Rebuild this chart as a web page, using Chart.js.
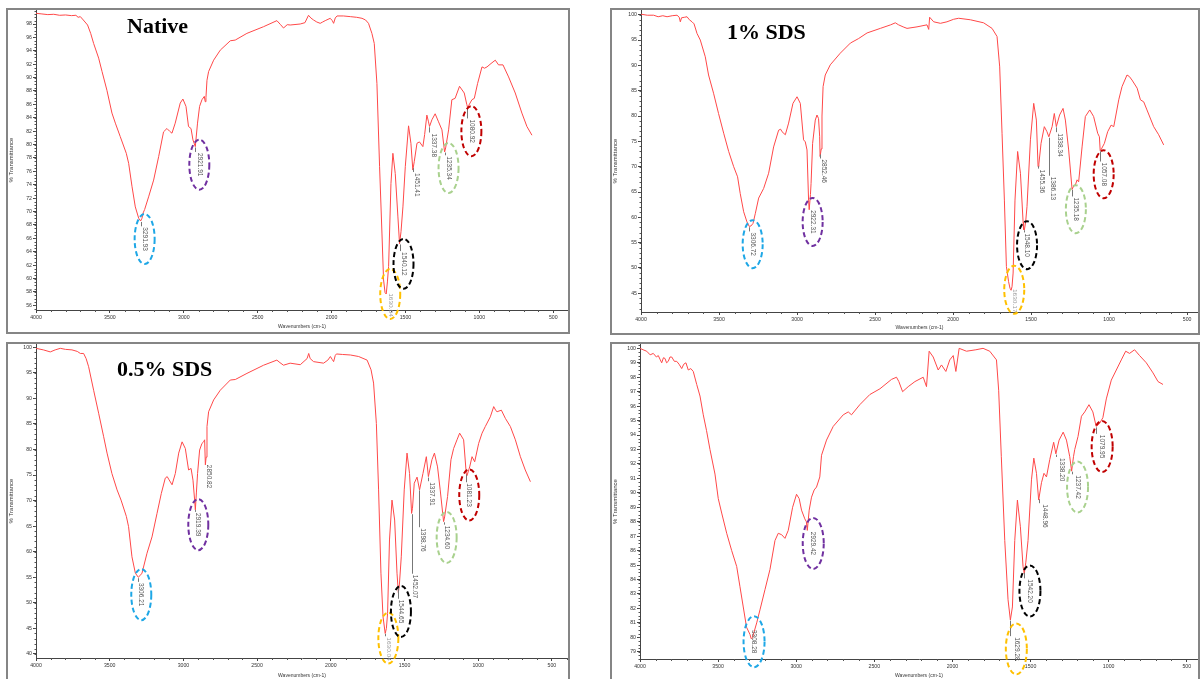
<!DOCTYPE html>
<html lang="en">
<head>
<meta charset="UTF-8">
<title>FTIR spectra</title>
<script src="https://cdn.jsdelivr.net/npm/chart.js"></script>
<style>
  body { margin: 0; width: 1201px; height: 679px; overflow: hidden; position: relative; background: #fff; }
  .panel { position: absolute; border: 2px solid #858585; box-sizing: border-box; background: #fff; }
  .panel canvas { position: absolute; left: 0; top: 0; }
  .tag { position: absolute; font-family: "Liberation Serif", "Times New Roman", serif; font-weight: bold;
         font-size: 22px; line-height: 22px; color: #000; white-space: nowrap; }
</style>
</head>
<body>

<div class="panel" style="left:6px;top:8px;width:564px;height:326px"><canvas id="native" width="560" height="322"></canvas></div>
<div class="panel" style="left:610px;top:8px;width:590px;height:327px"><canvas id="sds1" width="586" height="323"></canvas></div>
<div class="panel" style="left:6px;top:342px;width:564px;height:341px"><canvas id="sds05" width="560" height="337"></canvas></div>
<div class="panel" style="left:610px;top:342px;width:590px;height:341px"><canvas id="fourth" width="586" height="337"></canvas></div>

<div class="tag" style="left:127px;top:15px">Native</div>
<div class="tag" style="left:727px;top:21px">1% SDS</div>
<div class="tag" style="left:117px;top:358px">0.5% SDS</div>

<script>
  const xTicks = [4000, 3500, 3000, 2500, 2000, 1500, 1000, 500];

  // ---- Native ----
  const nativeWn = [4000, 3960, 3920, 3880, 3840, 3800, 3760, 3730, 3715, 3700, 3680, 3651, 3630, 3610, 3576, 3553, 3520, 3486, 3463, 3430,
    3389, 3373, 3350, 3328, 3305, 3292, 3283, 3275, 3265, 3238, 3204, 3170, 3137, 3114, 3096, 3080, 3058, 3024, 3006, 2985,
    2968, 2951, 2938, 2922, 2907, 2893, 2877, 2861, 2855, 2850, 2843, 2832, 2798, 2753, 2685, 2652, 2573, 2460, 2370, 2345,
    2325, 2300, 2280, 2212, 2180, 2156, 2140, 2122, 2100, 2077, 2060, 2043, 2009, 1995, 1986, 1975, 1963, 1920, 1873, 1830,
    1794, 1770, 1750, 1727, 1711, 1693, 1675, 1659, 1648, 1638, 1630, 1622, 1614, 1598, 1585, 1569, 1551, 1540, 1530, 1517,
    1501, 1479, 1463, 1450, 1440, 1422, 1405, 1382, 1370, 1355, 1345, 1337, 1321, 1299, 1276, 1253, 1240, 1235, 1228, 1208,
    1186, 1164, 1134, 1102, 1085, 1080, 1073, 1050, 1034, 1012, 982, 965, 948, 921, 892, 870, 840, 802, 757, 712, 678, 644];
  const nativeT = [99.6, 99.5, 99.4, 99.45, 99.3, 99.35, 99.25, 99.3, 99.0, 99.1, 98.6, 97.85, 96.6, 95.1, 92.9, 90.9, 88.1, 84.7, 83.2, 81.2,
    78.7, 77.2, 73.7, 70.7, 69.0, 68.6, 69.0, 69.8, 70.3, 72.2, 74.7, 78.2, 81.9, 82.4, 82.0, 81.7, 83.2, 86.2, 86.8, 85.7,
    82.7, 82.4, 80.7, 79.7, 83.2, 85.7, 86.7, 87.2, 86.4, 87.0, 89.6, 90.9, 92.6, 94.1, 95.5, 95.6, 96.6, 97.6, 98.5, 97.9,
    97.4, 97.9, 97.85, 98.0, 98.2, 99.3, 98.9, 98.6, 98.3, 98.1, 98.3, 98.5, 98.85, 98.5, 98.1, 98.9, 99.2, 99.2, 99.1, 99.0,
    98.85, 98.6, 98.1, 96.6, 95.1, 89.1, 76.7, 66.8, 59.8, 57.9, 57.7, 59.5, 61.8, 74.2, 78.7, 75.7, 69.2, 65.2, 67.0, 70.7,
    76.7, 82.8, 80.2, 76.2, 77.5, 80.2, 80.4, 79.7, 81.5, 84.4, 83.5, 82.7, 83.7, 84.6, 83.4, 82.2, 79.8, 78.9, 79.5, 82.2,
    86.7, 86.9, 88.7, 87.7, 86.0, 85.6, 85.8, 86.7, 86.9, 89.1, 91.6, 91.4, 91.6, 92.1, 92.6, 91.9, 91.9, 90.1, 87.7, 84.7, 82.7, 81.4];
  const nativePeaks = [3291.93, 2921.91, 1630.04, 1540.12, 1451.41, 1337.38, 1235.34, 1080.92];
  const nativeYTicks = [56, 58, 60, 62, 64, 66, 68, 70, 72, 74, 76, 78, 80, 82, 84, 86, 88, 90, 92, 94, 96, 98];

  // ---- 1% SDS ----
  const sds1Wn = [4000, 3960, 3919, 3890, 3860, 3833, 3800, 3769, 3755, 3748, 3740, 3720, 3705, 3690, 3673, 3660, 3641, 3620, 3588, 3567,
    3535, 3503, 3470, 3438, 3406, 3381, 3364, 3342, 3321, 3306, 3295, 3282, 3267, 3246, 3214, 3182, 3150, 3118, 3105, 3096,
    3075, 3054, 3026, 3000, 2979, 2958, 2947, 2936, 2926, 2922, 2914, 2910, 2900, 2883, 2872, 2862, 2855, 2852, 2845, 2840,
    2833, 2819, 2787, 2723, 2658, 2605, 2551, 2466, 2400, 2370, 2349, 2320, 2295, 2231, 2167, 2156, 2150, 2124, 2081, 2039,
    1996, 1964, 1889, 1804, 1750, 1718, 1701, 1686, 1671, 1658, 1644, 1635, 1628, 1622, 1615, 1603, 1586, 1568, 1551, 1548,
    1543, 1535, 1526, 1504, 1483, 1466, 1455, 1450, 1436, 1415, 1398, 1386, 1365, 1351, 1338, 1317, 1295, 1280, 1259, 1237,
    1225, 1216, 1205, 1195, 1173, 1152, 1124, 1099, 1073, 1062, 1057, 1049, 1030, 1009, 987, 970, 938, 917, 885, 870,
    853, 820, 799, 778, 757, 714, 682, 650];
  const sds1T = [100.1, 99.9, 99.9, 99.6, 99.8, 99.6, 99.8, 99.9, 99.5, 98.6, 99.4, 99.5, 99.6, 99.0, 98.6, 98.2, 96.3, 95.0, 91.7, 88.1,
    84.5, 80.5, 76.6, 73.0, 70.0, 68.0, 64.7, 61.1, 59.1, 58.2, 58.3, 58.8, 60.8, 63.8, 65.7, 68.7, 73.9, 77.2, 77.4, 76.9,
    76.3, 78.6, 82.5, 83.8, 82.5, 75.3, 74.9, 73.3, 63.4, 61.5, 64.5, 66.7, 74.6, 79.2, 80.2, 79.5, 76.0, 72.0, 73.5, 80.0,
    85.8, 88.1, 90.1, 92.4, 94.4, 95.3, 96.4, 97.3, 98.0, 98.4, 98.0, 97.6, 97.3, 97.6, 98.0, 97.1, 99.5, 98.6, 98.3, 98.6,
    99.1, 99.3, 99.0, 98.4, 97.3, 95.7, 89.7, 76.6, 63.4, 50.3, 47.3, 46.0, 45.6, 46.3, 49.0, 63.4, 73.0, 68.7, 59.1, 57.6,
    57.5, 59.0, 62.1, 75.3, 82.5, 79.2, 70.0, 70.5, 74.6, 77.9, 76.9, 75.9, 77.9, 80.5, 77.9, 80.2, 81.5, 79.2, 73.3, 65.5,
    66.3, 66.4, 67.4, 67.0, 73.9, 79.9, 81.2, 79.9, 76.6, 75.9, 73.2, 73.5, 74.6, 76.9, 78.2, 77.9, 83.2, 85.8, 88.1, 87.8,
    87.1, 85.5, 83.2, 82.8, 81.2, 77.9, 76.3, 74.3];
  const sds1Peaks = [3306.72, 2922.31, 2852.46, 1630.17, 1548.10, 1455.36, 1386.13, 1338.34, 1235.18, 1057.08];
  const sds1YTicks = [45, 50, 55, 60, 65, 70, 75, 80, 85, 90, 95, 100];

  // ---- 0.5% SDS ----
  const sds05Wn = [4000, 3950, 3903, 3870, 3835, 3800, 3756, 3720, 3699, 3677, 3660, 3643, 3609, 3575, 3541, 3518, 3485, 3450, 3423, 3387,
    3372, 3349, 3326, 3306, 3295, 3281, 3247, 3213, 3179, 3150, 3123, 3110, 3100, 3077, 3055, 3032, 3009, 2987, 2965, 2948,
    2935, 2925, 2919, 2912, 2904, 2890, 2874, 2863, 2856, 2851, 2846, 2840, 2829, 2795, 2750, 2682, 2648, 2569, 2456, 2366,
    2345, 2321, 2276, 2207, 2161, 2150, 2140, 2117, 2049, 2020, 2003, 1990, 1981, 1970, 1962, 1920, 1867, 1811, 1754, 1727,
    1710, 1691, 1676, 1660, 1646, 1631, 1623, 1615, 1602, 1585, 1567, 1551, 1542, 1535, 1522, 1502, 1483, 1466, 1452, 1446,
    1434, 1415, 1398, 1375, 1352, 1338, 1314, 1297, 1276, 1258, 1235, 1228, 1208, 1185, 1167, 1144, 1126, 1099, 1081, 1076,
    1058, 1042, 1024, 997, 974, 952, 918, 895, 880, 872, 843, 816, 782, 748, 714, 681, 646];
  const sds05T = [99.8, 99.5, 99.1, 99.5, 99.8, 99.6, 99.5, 99.2, 98.8, 98.8, 97.8, 96.2, 91.6, 87.1, 82.5, 79.3, 75.3, 72.1, 70.1, 66.9,
    64.9, 59.0, 55.8, 55.0, 55.3, 55.8, 59.7, 62.9, 67.5, 71.4, 74.4, 74.7, 74.2, 73.1, 75.3, 79.3, 81.5, 80.2, 76.0, 76.3,
    74.0, 70.5, 68.2, 71.5, 75.3, 79.9, 81.2, 81.5, 81.9, 77.0, 78.5, 84.5, 87.4, 89.7, 91.6, 93.6, 93.7, 94.9, 96.5, 97.5,
    97.0, 96.5, 96.9, 96.6, 97.8, 98.8, 97.8, 97.2, 96.9, 97.5, 98.2, 97.6, 97.2, 98.4, 98.7, 98.6, 98.5, 98.2, 97.5, 95.6,
    93.0, 85.1, 72.1, 55.8, 47.3, 44.0, 45.0, 47.9, 62.3, 70.1, 66.2, 55.8, 52.0, 53.5, 59.0, 72.1, 79.3, 75.3, 67.5, 68.5,
    73.4, 74.6, 72.1, 75.3, 78.6, 74.7, 78.0, 79.3, 76.6, 72.1, 65.9, 66.8, 70.8, 78.0, 80.2, 81.9, 83.2, 81.9, 75.2, 74.9,
    76.6, 78.6, 77.6, 81.2, 83.2, 84.5, 86.4, 88.4, 87.6, 87.4, 87.7, 86.1, 84.5, 81.9, 78.6, 76.0, 73.7];
  const sds05Peaks = [3306.21, 2919.39, 2850.82, 1630.04, 1544.65, 1452.07, 1398.76, 1337.91, 1234.60, 1081.23];
  const sds05YTicks = [40, 45, 50, 55, 60, 65, 70, 75, 80, 85, 90, 95, 100];

  // ---- fourth sample (no caption) ----
  const fourthWn = [4000, 3980, 3957, 3935, 3915, 3895, 3883, 3870, 3861, 3850, 3840, 3830, 3819, 3808, 3797, 3780, 3765, 3750, 3733, 3720,
    3706, 3691, 3675, 3659, 3637, 3616, 3595, 3574, 3552, 3520, 3499, 3477, 3445, 3413, 3381, 3360, 3339, 3318, 3296, 3288,
    3279, 3269, 3253, 3232, 3200, 3168, 3136, 3115, 3093, 3072, 3051, 3023, 2998, 2981, 2966, 2945, 2935, 2929, 2917, 2902,
    2885, 2870, 2849, 2838, 2806, 2763, 2699, 2667, 2646, 2593, 2529, 2464, 2390, 2358, 2343, 2319, 2283, 2240, 2187, 2166,
    2149, 2123, 2091, 2070, 2042, 2017, 1995, 1978, 1957, 1910, 1850, 1804, 1761, 1718, 1704, 1687, 1665, 1644, 1629, 1616,
    1601, 1584, 1565, 1548, 1540, 1530, 1516, 1494, 1479, 1462, 1448, 1430, 1414, 1398, 1377, 1352, 1338, 1317, 1291, 1270,
    1249, 1237, 1225, 1217, 1196, 1174, 1153, 1126, 1101, 1080, 1058, 1037, 1015, 983, 951, 919, 891, 866, 834, 802,
    759, 716, 684, 652];
  const fourthT = [100.0, 99.9, 99.8, 99.55, 99.65, 99.4, 99.5, 99.2, 99.0, 99.35, 99.3, 99.0, 99.1, 99.4, 99.4, 99.1, 99.1, 98.9, 98.6, 98.9,
    99.0, 98.5, 98.6, 98.4, 97.5, 96.7, 95.4, 94.3, 93.0, 91.3, 89.6, 88.6, 87.2, 86.0, 84.9, 83.5, 82.1, 80.7, 80.2, 79.9,
    80.0, 80.4, 81.0, 81.9, 83.3, 84.7, 86.7, 87.2, 87.1, 86.85, 87.4, 89.0, 89.9, 89.6, 88.8, 88.2, 88.0, 87.4, 88.8, 89.7,
    90.2, 90.4, 91.1, 92.6, 93.65, 94.6, 95.4, 95.6, 95.4, 96.1, 96.8, 97.2, 97.85, 98.0, 97.7, 97.0, 97.35, 97.7, 98.0, 97.35,
    99.8, 99.4, 98.5, 98.85, 98.4, 99.2, 99.5, 98.4, 100.0, 99.8, 99.9, 100.0, 99.8, 99.2, 97.1, 92.5, 86.7, 82.6, 81.2, 82.1,
    86.7, 89.5, 87.65, 84.9, 84.4, 85.2, 86.7, 90.9, 92.4, 91.35, 89.5, 90.7, 91.35, 91.1, 92.3, 93.5, 92.7, 93.65, 94.2, 93.65,
    92.5, 91.5, 92.5, 93.0, 93.9, 95.3, 95.6, 96.1, 95.6, 94.6, 94.8, 95.2, 96.5, 97.8, 98.5, 99.2, 99.8, 99.65, 99.9, 99.5,
    99.0, 98.3, 97.7, 97.5];
  const fourthPeaks = [3308.28, 2929.42, 1629.28, 1542.20, 1448.96, 1338.20, 1237.42, 1079.95];
  const fourthYTicks = [79, 80, 81, 82, 83, 84, 85, 86, 87, 88, 89, 90, 91, 92, 93, 94, 95, 96, 97, 98, 99, 100];

  // ---- annotation layout (label height in %T, ring colour) ----
  const BLUE = '#1ea7e6', PURPLE = '#7030a0', GOLD = '#ffc000', BLACK = '#000000', GREEN = '#a9d18e', RED = '#c00000';
  const nativeMarks = [{ at: 65.9, ring: BLUE }, { at: 77.0, ring: PURPLE }, { at: 57.7, ring: GOLD, small: true }, { at: 62.2, ring: BLACK },
    { at: 74.0 }, { at: 79.9 }, { at: 76.5, ring: GREEN }, { at: 82.0, ring: RED }];
  const sds1Marks = [{ at: 54.7, ring: BLUE }, { at: 59.1, ring: PURPLE }, { at: 69.1 }, { at: 45.7, ring: GOLD, small: true },
    { at: 54.5, ring: BLACK }, { at: 67.1 }, { at: 65.7 }, { at: 74.3 }, { at: 61.6, ring: GREEN }, { at: 68.5, ring: RED }];
  const sds05Marks = [{ at: 51.6, ring: BLUE }, { at: 65.3, ring: PURPLE }, { at: 74.7 }, { at: 43.1, ring: GOLD, small: true },
    { at: 48.3, ring: BLACK }, { at: 53.2 }, { at: 62.3 }, { at: 71.3 }, { at: 62.8, ring: GREEN }, { at: 71.1, ring: RED }];
  const fourthMarks = [{ at: 79.7, ring: BLUE }, { at: 86.5, ring: PURPLE }, { at: 79.2, ring: GOLD }, { at: 83.2, ring: BLACK },
    { at: 88.4 }, { at: 91.6 }, { at: 90.4, ring: GREEN }, { at: 93.2, ring: RED }];

  function valueAt(wn, t, w) {
    for (let i = 1; i < wn.length; i++) {
      if (wn[i] <= w) {
        const f = (wn[i - 1] - w) / (wn[i - 1] - wn[i]);
        return t[i - 1] + f * (t[i] - t[i - 1]);
      }
    }
    return t[t.length - 1];
  }

  function spectrum(cfg) {
    const decor = {
      id: 'decor',
      afterDatasetsDraw(chart) {
        const { ctx, scales: { x, y } } = chart;
        ctx.save();
        // minor ticks
        ctx.strokeStyle = '#555';
        ctx.lineWidth = 1;
        ctx.beginPath();
        for (let v = 4000; v >= cfg.xMin; v -= 100) {
          if (v % 500 === 0) continue;
          const px = Math.round(x.getPixelForValue(v)) + 0.5;
          ctx.moveTo(px, x.top); ctx.lineTo(px, x.top + 2);
        }
        for (let v = Math.ceil(cfg.yMin / cfg.yMinor) * cfg.yMinor; v <= cfg.yMax; v += cfg.yMinor) {
          const py = Math.round(y.getPixelForValue(v)) + 0.5;
          ctx.moveTo(y.right - 1.5, py); ctx.lineTo(y.right, py);
        }
        ctx.stroke();

        // peak labels and rings
        cfg.peaks.forEach((p, i) => {
          const m = cfg.marks[i];
          const label = p.toFixed(2);
          const px = x.getPixelForValue(p);
          const cx = px + cfg.shift;
          const cy = y.getPixelForValue(m.at);
          const ty = m.small ? cy + 11 : cy;
          ctx.font = (m.small ? 4.5 : 6.5) + 'px "Liberation Sans", Arial, sans-serif';
          const stretch = m.small ? 1.45 : 1;
          const len = ctx.measureText(label).width * stretch;
          const top = ty - len / 2;
          const curve = y.getPixelForValue(valueAt(cfg.wn, cfg.t, p));
          if (top - curve > 2) {
            ctx.strokeStyle = '#777';
            ctx.lineWidth = 1;
            ctx.setLineDash([]);
            ctx.beginPath();
            ctx.moveTo(Math.round(px) + 0.5, curve + 1);
            ctx.lineTo(Math.round(px) + 0.5, top - 1);
            ctx.stroke();
          }
          ctx.save();
          ctx.translate(cx, top);
          ctx.rotate(Math.PI / 2);
          ctx.scale(stretch, 1);
          ctx.fillStyle = m.small ? '#999' : '#555';
          ctx.textBaseline = 'middle';
          ctx.textAlign = 'left';
          ctx.fillText(label, 0, 0);
          ctx.restore();
          if (m.ring) {
            ctx.strokeStyle = m.ring;
            ctx.lineWidth = 2;
            ctx.setLineDash([5, 3]);
            ctx.beginPath();
            ctx.ellipse(cx, cy, cfg.rx, cfg.ry, 0, 0, Math.PI * 2);
            ctx.stroke();
          }
        });
        ctx.restore();
      }
    };

    const tickFont = { family: '"Liberation Sans", Arial, sans-serif', size: 5.2 };
    new Chart(document.getElementById(cfg.id), {
      type: 'line',
      data: {
        datasets: [{
          data: cfg.wn.map((w, i) => ({ x: w, y: cfg.t[i] })),
          borderColor: 'rgb(255, 72, 72)',
          borderWidth: 1,
          pointRadius: 0,
          tension: 0
        }]
      },
      options: {
        responsive: false,
        animation: false,
        devicePixelRatio: 1,
        layout: { padding: 0 },
        plugins: { legend: { display: false }, tooltip: { enabled: false } },
        scales: {
          x: {
            type: 'linear',
            reverse: true,
            min: cfg.xMin,
            max: 4000,
            afterBuildTicks: s => { s.ticks = xTicks.map(v => ({ value: v })); },
            afterFit: s => { s.height = cfg.axisH; s.paddingLeft = 0; s.paddingRight = 0; },
            ticks: { autoSkip: false, maxRotation: 0, padding: 1, color: '#333', font: tickFont, callback: v => String(v) },
            grid: { drawOnChartArea: false, tickLength: 3, color: '#444' },
            border: { color: '#444' },
            title: { display: true, text: 'Wavenumbers (cm-1)', color: '#333', padding: { top: 0, bottom: 2 },
                     font: { family: '"Liberation Sans", Arial, sans-serif', size: 5 } }
          },
          y: {
            type: 'linear',
            min: cfg.yMin,
            max: cfg.yMax,
            afterBuildTicks: s => { s.ticks = cfg.yTicks.map(v => ({ value: v })); },
            afterFit: s => { s.width = cfg.yW; s.paddingTop = 0; s.paddingBottom = 0; },
            ticks: { autoSkip: false, padding: 1, color: '#333', font: tickFont, callback: v => String(v) },
            grid: { drawOnChartArea: false, tickLength: 3, color: '#444' },
            border: { color: '#444' },
            title: { display: true, text: '% Transmittance', color: '#333', padding: { top: 0, bottom: 0 },
                     font: { family: '"Liberation Sans", Arial, sans-serif', size: 6 } }
          }
        }
      },
      plugins: [decor]
    });
  }

  spectrum({ id: 'native', wn: nativeWn, t: nativeT, peaks: nativePeaks, marks: nativeMarks, yTicks: nativeYTicks,
    xMin: 400, yMin: 55.31, yMax: 100.09, yMinor: 0.5, yW: 28, axisH: 22, shift: 4, rx: 10, ry: 25 });
  spectrum({ id: 'sds1', wn: sds1Wn, t: sds1T, peaks: sds1Peaks, marks: sds1Marks, yTicks: sds1YTicks,
    xMin: 430, yMin: 41.31, yMax: 100.93, yMinor: 1, yW: 29, axisH: 21, shift: 3.5, rx: 10, ry: 24 });
  spectrum({ id: 'sds05', wn: sds05Wn, t: sds05T, peaks: sds05Peaks, marks: sds05Marks, yTicks: sds05YTicks,
    xMin: 391, yMin: 39.2, yMax: 100.65, yMinor: 1, yW: 28, axisH: 23, shift: 3, rx: 10, ry: 25.5 });
  spectrum({ id: 'fourth', wn: fourthWn, t: fourthT, peaks: fourthPeaks, marks: fourthMarks, yTicks: fourthYTicks,
    xMin: 428, yMin: 78.5, yMax: 100.3, yMinor: 0.25, yW: 28, axisH: 22, shift: 6, rx: 10.5, ry: 25.5 });
</script>
</body>
</html>
